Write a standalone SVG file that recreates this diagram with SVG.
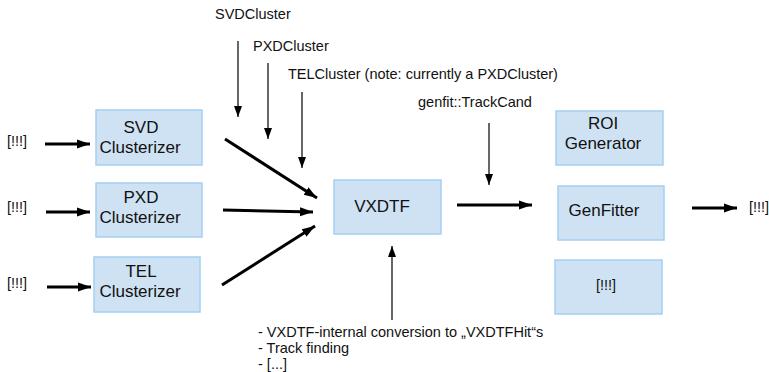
<svg xmlns="http://www.w3.org/2000/svg" width="769" height="372" viewBox="0 0 769 372">
<defs>
<style>
.box{fill:#cfe2f3;stroke:#a4d0f4;stroke-width:1.5}
.t{font-family:"Liberation Sans",Arial,sans-serif;fill:#111}
.lg{font-size:17px;text-anchor:middle}
.sm{font-size:14.5px}
.thick{stroke:#000;stroke-width:3;fill:none;marker-end:url(#ah)}
.thin{stroke:#000;stroke-width:1.2;fill:none;marker-end:url(#as)}
</style>
<marker id="ah" markerUnits="userSpaceOnUse" markerWidth="14" markerHeight="12" viewBox="0 0 14 12" refX="13" refY="6" orient="auto">
<path d="M0,1.5 L13,6 L0,10.5 Z" fill="#000"/>
</marker>
<marker id="as" markerUnits="userSpaceOnUse" markerWidth="12" markerHeight="10" viewBox="0 0 12 10" refX="11" refY="5" orient="auto">
<path d="M0,1 L11,5 L0,9 Z" fill="#000"/>
</marker>
</defs>
<rect width="769" height="372" fill="#fff"/>

<g id="svd-clusterizer">
<rect class="box" x="96" y="110" width="106" height="55"/>
<text class="t lg" x="141" y="133">SVD</text>
<text class="t lg" x="140" y="153">Clusterizer</text>
</g>
<g id="pxd-clusterizer">
<rect class="box" x="96" y="183" width="106" height="54"/>
<text class="t lg" x="141" y="203">PXD</text>
<text class="t lg" x="140" y="223">Clusterizer</text>
</g>
<g id="tel-clusterizer">
<rect class="box" x="94" y="257" width="106" height="55"/>
<text class="t lg" x="141" y="277">TEL</text>
<text class="t lg" x="140" y="297">Clusterizer</text>
</g>
<g id="vxdtf">
<rect class="box" x="334" y="180" width="107" height="54"/>
<text class="t lg" x="382" y="212">VXDTF</text>
</g>
<g id="roi-generator">
<rect class="box" x="556" y="111" width="107" height="54"/>
<text class="t lg" x="603" y="129">ROI</text>
<text class="t lg" x="603" y="149">Generator</text>
</g>
<g id="genfitter">
<rect class="box" x="558" y="186" width="106" height="54"/>
<text class="t lg" x="604" y="216">GenFitter</text>
</g>
<g id="unknown-module">
<rect class="box" x="555" y="260" width="107" height="54"/>
<text class="t sm" x="606" y="290" text-anchor="middle">[!!!]</text>
</g>

<g id="labels">
<text class="t sm" x="7" y="146">[!!!]</text>
<text class="t sm" x="7" y="212">[!!!]</text>
<text class="t sm" x="7" y="288">[!!!]</text>
<text class="t sm" x="749" y="212">[!!!]</text>
<text class="t sm" x="215" y="19">SVDCluster</text>
<text class="t sm" x="253" y="51">PXDCluster</text>
<text class="t sm" x="288" y="79">TELCluster (note: currently a PXDCluster)</text>
<text class="t sm" x="418" y="107">genfit::TrackCand</text>
<text class="t sm" x="258" y="337">- VXDTF-internal conversion to „VXDTFHit“s</text>
<text class="t sm" x="258" y="353">- Track finding</text>
<text class="t sm" x="258" y="369">- [...]</text>
</g>

<g id="connectors">
<line class="thick" x1="45" y1="144" x2="90" y2="144"/>
<line class="thick" x1="46" y1="212" x2="90" y2="212"/>
<line class="thick" x1="47" y1="287" x2="91" y2="287"/>
<line class="thick" x1="225" y1="139" x2="317" y2="198"/>
<line class="thick" x1="223" y1="210" x2="313" y2="212"/>
<line class="thick" x1="222" y1="285" x2="315" y2="226"/>
<line class="thick" x1="457" y1="205" x2="532" y2="205"/>
<line class="thick" x1="692" y1="208" x2="737" y2="208"/>
<line class="thin" x1="238" y1="41" x2="238" y2="117"/>
<line class="thin" x1="268" y1="63" x2="268" y2="139"/>
<line class="thin" x1="302" y1="92" x2="302" y2="168"/>
<line class="thin" x1="489" y1="123" x2="489" y2="185"/>
<line class="thin" x1="392" y1="320" x2="392" y2="246"/>
</g>
</svg>
